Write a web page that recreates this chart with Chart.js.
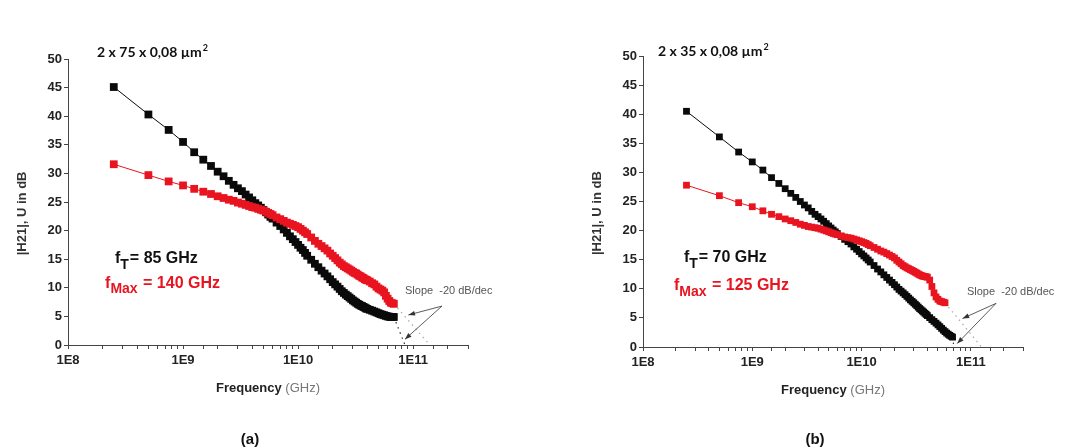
<!DOCTYPE html>
<html lang="en">
<head>
<meta charset="UTF-8">
<title>|H21| and U versus frequency</title>
<script src="https://cdn.jsdelivr.net/npm/chart.js@4.4.0/dist/chart.umd.min.js"></script>
<style>
  body { margin: 0; background: #fff; width: 1066px; height: 448px; overflow: hidden; }
  .panel { position: absolute; top: 0; width: 533px; height: 448px; }
  #panelA { left: 0; }
  #panelB { left: 533px; }
</style>
</head>
<body>
<div class="panel" id="panelA"><canvas id="chartA" width="533" height="448"></canvas></div>
<div class="panel" id="panelB"><canvas id="chartB" width="533" height="448"></canvas></div>

<script>
// measured frequencies (Hz)
const freq = [
  2.5e8, 5e8, 7.5e8, 1e9, 1.25e9, 1.5e9, 1.75e9, 2e9, 2.25e9, 2.5e9, 2.75e9, 3e9, 3.25e9, 3.5e9, 3.75e9, 4e9,
  4.25e9, 4.5e9, 4.75e9, 5e9, 5.25e9, 5.5e9, 5.75e9, 6e9,
  6.5e9, 7e9, 7.5e9, 8e9, 8.5e9, 9e9, 9.5e9, 1e10, 1.05e10, 1.1e10, 1.15e10, 1.2e10,
  1.3e10, 1.4e10, 1.5e10, 1.6e10, 1.7e10, 1.8e10, 1.9e10, 2e10, 2.1e10, 2.2e10, 2.3e10, 2.4e10,
  2.5e10, 2.6e10, 2.7e10, 2.8e10, 2.9e10, 3e10, 3.1e10, 3.2e10, 3.3e10, 3.4e10, 3.5e10, 3.6e10, 3.7e10, 3.8e10, 3.9e10,
  4e10, 4.2e10, 4.4e10, 4.6e10, 4.8e10, 5e10, 5.2e10, 5.4e10, 5.6e10, 5.8e10, 6e10, 6.2e10, 6.4e10, 6.6e10, 6.8e10
];

// (a) 2 x 75 x 0,08 um2
const h21A = [
  45.1, 40.3, 37.6, 35.5, 33.7, 32.4, 31.3, 30.3, 29.5, 28.7, 28.0, 27.4, 26.9, 26.3, 25.8, 25.3,
  24.8, 24.4, 24.0, 23.6, 23.2, 22.8, 22.4, 22.1,
  21.4, 20.8, 20.2, 19.6, 19.0, 18.5, 18.0, 17.5, 17.0, 16.6, 16.1, 15.6,
  14.9, 14.2, 13.6, 13.0, 12.5, 12.0, 11.5, 11.0, 10.6, 10.2, 9.8, 9.4,
  9.1, 8.8, 8.55, 8.3, 8.05, 7.8, 7.6, 7.4, 7.2, 7.05, 6.9, 6.8, 6.65, 6.55, 6.4,
  6.3, 6.15, 6.0, 5.85, 5.7, 5.55, 5.4, 5.3, 5.2, 5.1, 5.0, 4.95, 4.9, 4.9, 4.9
];
const uA = [
  31.6, 29.7, 28.6, 27.9, 27.3, 26.8, 26.4, 26.0, 25.7, 25.4, 25.2, 24.9, 24.7, 24.5, 24.3, 24.1,
  24.0, 23.8, 23.65, 23.5, 23.3, 23.1, 22.9, 22.7,
  22.3, 22.0, 21.7, 21.4, 21.2, 21.0, 20.8, 20.6, 20.3, 20.0, 19.7, 19.4,
  18.8, 18.2, 17.7, 17.3, 16.9, 16.5, 16.0, 15.6, 15.2, 14.8, 14.4, 14.1,
  13.8, 13.6, 13.4, 13.2, 13.0, 12.8, 12.6, 12.5, 12.3, 12.1, 12.0, 11.8, 11.7, 11.5, 11.4,
  11.3, 11.1, 10.8, 10.6, 10.2, 9.9, 9.7, 9.5, 9.2, 8.6, 8.1, 7.7, 7.4, 7.3, 7.2
];

// (b) 2 x 35 x 0,08 um2
const h21B = [
  40.5, 36.1, 33.5, 31.8, 30.4, 29.1, 28.1, 27.2, 26.4, 25.7, 25.0, 24.4, 23.9, 23.3, 22.8, 22.4,
  22.0, 21.6, 21.2, 20.8, 20.45, 20.1, 19.8, 19.5,
  19.0, 18.5, 18.1, 17.7, 17.2, 16.8, 16.4, 16.0, 15.65, 15.3, 14.95, 14.6,
  14.0, 13.4, 12.9, 12.4, 11.95, 11.5, 11.1, 10.7, 10.3, 9.9, 9.6, 9.3,
  9.0, 8.7, 8.4, 8.1, 7.85, 7.6, 7.35, 7.1, 6.85, 6.6, 6.4, 6.2, 6.0, 5.8, 5.6,
  5.4, 5.05, 4.7, 4.4, 4.1, 3.8, 3.5, 3.2, 2.9, 2.65, 2.4, 2.2, 2.0, 1.85, 1.7
];
const uB = [
  27.8, 26.0, 24.8, 24.1, 23.4, 22.8, 22.4, 22.0, 21.7, 21.4, 21.1, 20.9, 20.7, 20.6, 20.5, 20.4,
  20.25, 20.1, 19.95, 19.8, 19.65, 19.5, 19.4, 19.3,
  19.1, 18.9, 18.8, 18.7, 18.55, 18.4, 18.25, 18.1, 17.95, 17.8, 17.6, 17.4,
  17.1, 16.8, 16.5, 16.3, 16.05, 15.8, 15.55, 15.3, 14.9, 14.6, 14.3, 14.0,
  13.8, 13.6, 13.45, 13.3, 13.15, 13.0, 12.85, 12.7, 12.55, 12.4, 12.3, 12.2, 12.15, 12.1, 12.05,
  12.0, 11.5, 10.4, 9.3, 8.6, 8.2, 7.9, 7.8, 7.7, 7.6, null, null, null, null, null
];

const fTGHz = [85, 70];
const fMaxGHz = [140, 125];
const sizeLabels = ['2 x 75 x 0,08 \u00b5m', '2 x 35 x 0,08 \u00b5m'];
const captions = ['(a)', '(b)'];

const xTickValues = [1e8, 1e9, 1e10, 1e11];
const xTickLabels = ['1E8', '1E9', '1E10', '1E11'];

const RED = '#e8141f';
const BLACK = '#0a0a0a';
const TICK_FONT = { family: 'Liberation Sans', size: 13, weight: 'bold' };

function pts(values) {
  return freq.map((f, i) => ({ x: f, y: values[i] })).filter(p => p.y !== null);
}

function lastPoint(values) {
  let i = values.length - 1;
  while (values[i] === null) i--;
  return { x: freq[i], y: values[i] };
}

function subText(ctx, x, y, base, sub, rest, size) {
  ctx.font = 'bold ' + size + 'px "Liberation Sans"';
  ctx.fillText(base, x, y);
  x += ctx.measureText(base).width;
  ctx.font = 'bold ' + Math.round(size * 0.85) + 'px "Liberation Sans"';
  ctx.fillText(sub, x, y + size * 0.35);
  x += ctx.measureText(sub).width + 1;
  ctx.font = 'bold ' + size + 'px "Liberation Sans"';
  ctx.fillText(rest, x, y);
}

function arrow(ctx, x0, y0, x1, y1) {
  ctx.beginPath();
  ctx.moveTo(x0, y0);
  ctx.lineTo(x1, y1);
  ctx.stroke();
  const a = Math.atan2(y1 - y0, x1 - x0);
  ctx.beginPath();
  ctx.moveTo(x1, y1);
  ctx.lineTo(x1 - 7 * Math.cos(a - 0.35), y1 - 7 * Math.sin(a - 0.35));
  ctx.lineTo(x1 - 7 * Math.cos(a + 0.35), y1 - 7 * Math.sin(a + 0.35));
  ctx.closePath();
  ctx.fill();
}

const annotate = {
  id: 'annotate',
  afterDraw(chart, args, o) {
    const ctx = chart.ctx, xs = chart.scales.x, ys = chart.scales.y, ca = chart.chartArea;
    const px = (f) => xs.getPixelForValue(f);
    const py = (v) => ys.getPixelForValue(v);
    const cx = (ca.left + ca.right) / 2;
    ctx.save();
    ctx.textBaseline = 'alphabetic';
    ctx.textAlign = 'left';

    // device size
    ctx.fillStyle = '#111';
    ctx.font = 'bold 14px Lato';
    let x = px(o.sizeAt[0]), y = py(o.sizeAt[1]);
    ctx.fillText(o.size, x, y);
    x += ctx.measureText(o.size).width;
    ctx.font = 'bold 9px Lato';
    ctx.fillText('2', x + 1, y - 6);

    // fT / fMax
    ctx.fillStyle = '#111';
    subText(ctx, px(o.ftAt[0]), py(o.ftAt[1]), 'f', 'T', '= ' + o.ft + ' GHz', 16);
    ctx.fillStyle = RED;
    subText(ctx, px(o.fmaxAt[0]), py(o.fmaxAt[1]), 'f', 'Max', ' = ' + o.fmax + ' GHz', 16);

    // slope note
    ctx.fillStyle = '#555';
    ctx.font = '11px "Liberation Sans"';
    ctx.fillText('Slope  -20 dB/dec', px(o.slopeAt[0]), py(o.slopeAt[1]));
    ctx.strokeStyle = '#333';
    ctx.fillStyle = '#333';
    ctx.lineWidth = 0.8;
    o.arrowTo.forEach(t => arrow(ctx, px(o.arrowFrom[0]), py(o.arrowFrom[1]), px(t[0]), py(t[1])));

    // axis titles
    ctx.textAlign = 'left';
    ctx.font = 'bold 13px "Liberation Sans"';
    const w1 = ctx.measureText('Frequency ').width;
    ctx.font = '13px "Liberation Sans"';
    const w2 = ctx.measureText('(GHz)').width;
    let tx = cx - (w1 + w2) / 2;
    const ty = ca.bottom + 47;
    ctx.font = 'bold 13px "Liberation Sans"';
    ctx.fillStyle = '#222';
    ctx.fillText('Frequency ', tx, ty);
    ctx.font = '13px "Liberation Sans"';
    ctx.fillStyle = '#777';
    ctx.fillText('(GHz)', tx + w1, ty);

    ctx.save();
    ctx.translate(ca.left - 46, py(23));
    ctx.rotate(-Math.PI / 2);
    ctx.textAlign = 'center';
    ctx.textBaseline = 'middle';
    ctx.font = 'bold 13px "Liberation Sans"';
    ctx.fillStyle = '#333';
    ctx.fillText('|H21|, U in dB', 0, 0);
    ctx.restore();

    // caption
    ctx.textAlign = 'center';
    ctx.textBaseline = 'middle';
    ctx.font = 'bold 15px "Liberation Sans"';
    ctx.fillStyle = '#111';
    ctx.fillText(o.caption, cx - 18, 440);
    ctx.restore();
  }
};

function makePanel(id, k, h21, u, r, pad, notes) {
  const endH = lastPoint(h21), endU = lastPoint(u);
  return new Chart(document.getElementById(id), {
    type: 'scatter',
    data: {
      datasets: [
        { label: 'U', data: pts(u), showLine: true, borderColor: RED, backgroundColor: RED,
          borderWidth: 1, pointStyle: 'rect', pointRadius: r, pointBorderWidth: 0, order: 0 },
        { label: '|H21|', data: pts(h21), showLine: true, borderColor: BLACK, backgroundColor: BLACK,
          borderWidth: 1, pointStyle: 'rect', pointRadius: r, pointBorderWidth: 0, order: 1 },
        { label: 'fT slope', data: [endH, { x: fTGHz[k] * 1e9, y: 0 }], showLine: true,
          borderColor: '#333', borderWidth: 1.2, borderDash: [1.5, 4], pointRadius: 0, order: 2 },
        { label: 'fMax slope', data: [endU, { x: fMaxGHz[k] * 1e9, y: 0 }], showLine: true,
          borderColor: '#aaa', borderWidth: 1.2, borderDash: [1.5, 4], pointRadius: 0, order: 2 }
      ]
    },
    options: {
      responsive: false,
      animation: false,
      devicePixelRatio: 1,
      layout: { padding: pad },
      plugins: { legend: { display: false }, tooltip: { enabled: false }, annotate: notes },
      scales: {
        x: {
          type: 'logarithmic', min: 1e8, max: 3e11,
          grid: { drawOnChartArea: false, tickLength: 4, tickColor: '#444' },
          border: { color: '#444', width: 1 },
          ticks: {
            autoSkip: false, maxRotation: 0, padding: 4, color: '#222', font: TICK_FONT,
            callback: (v) => { const i = xTickValues.indexOf(v); return i >= 0 ? xTickLabels[i] : ''; }
          },
          afterFit: (s) => { s.height = 60; }
        },
        y: {
          min: 0, max: 50,
          grid: { drawOnChartArea: false, tickLength: 4, tickColor: '#444' },
          border: { color: '#444', width: 1 },
          ticks: {
            stepSize: 2.5, padding: 2, color: '#222', font: TICK_FONT,
            callback: (v) => (v % 5 === 0 ? String(v) : '')
          },
          afterFit: (s) => { s.width = 68; }
        }
      }
    },
    plugins: [annotate]
  });
}

makePanel('chartA', 0, h21A, uA, 5.5, { left: 0, top: 59, right: 65, bottom: 43 }, {
  size: sizeLabels[0], sizeAt: [1.79e8, 50.4],
  ft: fTGHz[0], ftAt: [2.56e8, 14.35],
  fmax: fMaxGHz[0], fmaxAt: [2.1e8, 10.0],
  slopeAt: [8.5e10, 8.9],
  arrowFrom: [1.78e11, 6.8], arrowTo: [[9.1e10, 5.25], [8.5e10, 1.0]],
  caption: captions[0]
});

makePanel('chartB', 1, h21B, uB, 4.8, { left: 42, top: 56, right: 43, bottom: 41 }, {
  size: sizeLabels[1], sizeAt: [1.37e8, 50],
  ft: fTGHz[1], ftAt: [2.37e8, 14.6],
  fmax: fMaxGHz[1], fmaxAt: [1.92e8, 9.75],
  slopeAt: [9.2e10, 8.9],
  arrowFrom: [1.7e11, 7.5], arrowTo: [[8.4e10, 4.9], [7.5e10, 0.6]],
  caption: captions[1]
});
</script>
</body>
</html>
